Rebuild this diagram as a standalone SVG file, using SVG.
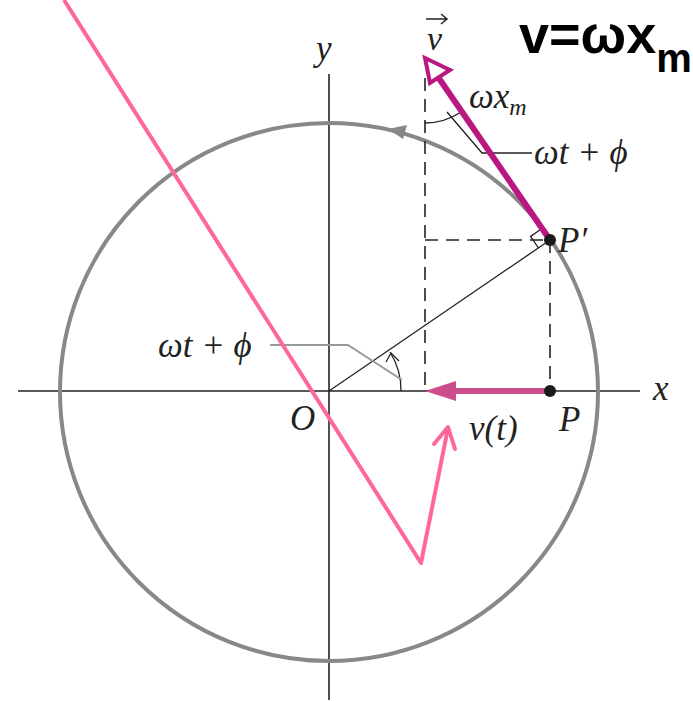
<svg xmlns="http://www.w3.org/2000/svg" width="693" height="701" viewBox="0 0 693 701">
<style>
.ax{stroke:#222;stroke-width:1.6;fill:none}
.dash{stroke:#222;stroke-width:1.6;fill:none;stroke-dasharray:13 8}
.thin{stroke:#222;stroke-width:1.3;fill:none}
.lead{stroke:#999;stroke-width:2;fill:none}
.lbl{font-family:"Liberation Serif",serif;font-style:italic;font-size:35px;fill:#222}
</style>
<rect width="693" height="701" fill="#fff"/>
<g id="axes">
<line class="ax" x1="18" y1="391" x2="640" y2="391"/>
<line class="ax" x1="329" y1="74" x2="329" y2="700"/>
<text class="lbl" x="316" y="60">y</text>
<text class="lbl" x="653" y="400">x</text>
<text class="lbl" x="290" y="430">O</text>
</g>
<g id="circle">
<circle cx="329" cy="392" r="269" fill="none" stroke="#888" stroke-width="4"/>
<path d="M388,129 L407,125 L403,139 z" fill="#888"/>
</g>
<g id="connectors">
<line class="dash" x1="425" y1="78" x2="425" y2="391"/>
<line class="dash" x1="425" y1="240" x2="550" y2="240"/>
<line class="dash" x1="550" y1="240" x2="550" y2="391"/>
<line class="thin" x1="329" y1="391" x2="550" y2="240"/>
<path class="thin" d="M538.5,248 L530.5,236.4 L542,228.5"/>
<path class="thin" d="M401,391 A72,72 0 0 0 390,352"/>
<path class="thin" d="M386,362 L391,353 L399,361"/>
<path class="lead" d="M270,345 L348,345 L402,380"/>
<path class="thin" d="M425,123 A65,65 0 0 0 461,112"/>
<path class="thin" d="M447,112 L482,153 L532,153"/>
</g>
<g id="v-vector">
<line x1="550" y1="240" x2="436" y2="74" stroke="#b8187f" stroke-width="6"/>
<path d="M425,58 L450,70 L430,83 z" fill="#fff" stroke="#b8187f" stroke-width="4" stroke-linejoin="miter"/>
<text x="427" y="50" font-family="Liberation Serif,serif" font-style="italic" font-size="34" fill="#222">v</text>
<path d="M426,19 L447,19 M441,14 L447,19 L441,24" stroke="#222" stroke-width="1.5" fill="none"/>
<text class="lbl" x="469" y="108">ωx<tspan font-size="24" dy="7">m</tspan></text>
<text class="lbl" x="534" y="164">ωt + ϕ</text>
</g>
<g id="vt-vector">
<line x1="550" y1="391" x2="450" y2="391" stroke="#cc4d8c" stroke-width="6"/>
<path d="M425,391 L456,381 L456,401 z" fill="#cc4d8c"/>
<text class="lbl" x="469" y="440">v(t)</text>
</g>
<g id="points">
<circle cx="550" cy="240" r="6" fill="#1a1a1a"/>
<circle cx="550" cy="391" r="6" fill="#1a1a1a"/>
<text class="lbl" x="558" y="252">P′</text>
<text class="lbl" x="559" y="431">P</text>
</g>
<g id="angle-label">
<text class="lbl" x="158" y="357">ωt + ϕ</text>
</g>
<g id="pink-annotation">
<path d="M64,0 L421,563 L448,428" stroke="#ff6699" stroke-width="4" fill="none" stroke-linejoin="round"/>
<path d="M434,444 L448,427 L455,449" stroke="#ff6699" stroke-width="4" fill="none" stroke-linecap="round" stroke-linejoin="round"/>
</g>
<g id="formula">
<text x="519" y="53" font-family="Liberation Sans,Arial,sans-serif" font-weight="bold" font-size="54" fill="#000">v=ωx<tspan font-size="40" dy="19">m</tspan></text>
</g>
</svg>
